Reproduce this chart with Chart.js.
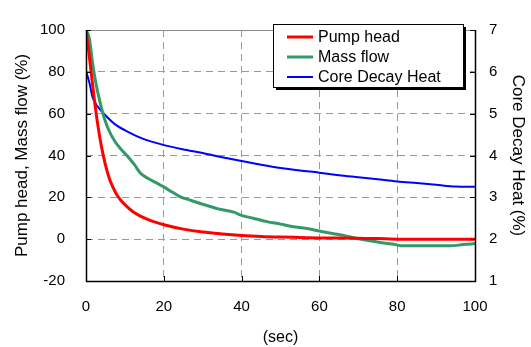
<!DOCTYPE html>
<html>
<head>
<meta charset="utf-8">
<script src="https://cdn.jsdelivr.net/npm/chart.js@4/dist/chart.umd.min.js"></script>
<style>
html,body{margin:0;padding:0;background:#fff;}
#wrap{width:531px;height:347px;}
</style>
</head>
<body>
<div id="wrap"><canvas id="c" width="531" height="347"></canvas></div>
<script>
// ---- data ----
const pumpTime = [0,0.5,1,1.5,2,3,4,5,6,7,8,9,10,12,14,16,18,20,25,30,35,40,45,50,55,60,65,70,75,80,90,100];
const pumpHead = [100,93,85,77,69,55,44,35.5,29,24.5,21,18.5,16.5,13.2,11,9.3,8,6.9,4.8,3.4,2.5,1.8,1.3,1,0.8,0.6,0.5,0.4,0.3,0,0,0];

const flowTime = [0,0.3,0.9,1.7,2.6,3.9,4.8,5.7,7.4,9,10.9,12.5,14,16,18,20,22,24,27,30,34,38,40,43,46.5,50,52.6,56,60,63,66.5,70,73,76,79.6,81,85,90,93.5,97,100];
const massFlow = [100,99,95.6,84,74,63.3,57.3,52.8,46.8,43,39.2,35.5,31.5,29,27,25,22.7,20.5,18.5,16.7,14.5,12.9,11.4,10,8.4,7.2,6.2,5.3,3.9,2.8,1.7,0.2,-0.8,-1.7,-2.6,-3.2,-3.2,-3.2,-3.2,-2.6,-2.1];

const heatTime = [0,0.9,1.7,3,4.8,7.4,10.9,14.4,19.6,24.8,30,35,40,45,50,55,60,65,70,75,80,85,90,95,100];
const decayHeat = [6.02,5.73,5.39,5.17,4.98,4.75,4.56,4.41,4.26,4.15,4.06,3.96,3.87,3.78,3.70,3.64,3.59,3.53,3.48,3.43,3.38,3.34,3.30,3.26,3.25];

const xTicks = [0,20,40,60,80,100];
const leftTicks = [-20,0,20,40,60,80,100];
const rightTicks = [1,2,3,4,5,6,7];

const seriesNames = ['Pump head','Mass flow','Core Decay Heat'];
// --------------------------------------

const FONT = 'Liberation Sans, Arial, sans-serif';
const pts = (xs, ys) => xs.map((x, i) => ({x: x, y: ys[i]}));

const frame = {
  id: 'frame',
  beforeDatasetsDraw(chart) {
    const {ctx, chartArea: a} = chart;
    ctx.save();
    ctx.strokeStyle = '#8c8c8c';
    ctx.lineWidth = 1;
    ctx.beginPath();
    ctx.moveTo(a.left, a.top + 0.5);
    ctx.lineTo(a.right, a.top + 0.5);
    ctx.stroke();
    ctx.restore();
  },
  afterDatasetsDraw(chart) {
    const {ctx, chartArea: a, scales} = chart;
    ctx.save();
    ctx.strokeStyle = '#000';
    ctx.lineWidth = 1.5;
    ctx.beginPath();
    ctx.moveTo(a.left + 0.5, a.top);
    ctx.lineTo(a.left + 0.5, a.bottom + 0.5);
    ctx.lineTo(a.right + 0.5, a.bottom + 0.5);
    ctx.lineTo(a.right + 0.5, a.top);
    ctx.stroke();
    ctx.lineWidth = 1;
    ctx.beginPath();
    const tl = 5;
    scales.y.ticks.forEach(t => {
      const y = Math.round(scales.y.getPixelForValue(t.value)) + 0.5;
      ctx.moveTo(a.left, y); ctx.lineTo(a.left + tl, y);
    });
    scales.y1.ticks.forEach(t => {
      const y = Math.round(scales.y1.getPixelForValue(t.value)) + 0.5;
      ctx.moveTo(a.right, y); ctx.lineTo(a.right - tl, y);
    });
    scales.x.ticks.forEach(t => {
      const x = Math.round(scales.x.getPixelForValue(t.value)) + 0.5;
      ctx.moveTo(x, a.bottom); ctx.lineTo(x, a.bottom - tl);
    });
    ctx.stroke();
    ctx.restore();

    // legend box
    const bx = 273, by = 24, bw = 190, bh = 63;
    ctx.save();
    ctx.fillStyle = '#000';
    ctx.fillRect(bx + 3, by + 3, bw, bh);
    ctx.fillStyle = '#fff';
    ctx.fillRect(bx, by, bw, bh);
    ctx.strokeStyle = '#000';
    ctx.lineWidth = 1;
    ctx.strokeRect(bx + 0.5, by + 0.5, bw, bh);
    ctx.font = '16px ' + FONT;
    ctx.textBaseline = 'middle';
    ctx.textAlign = 'left';
    chart.data.datasets.forEach((ds, i) => {
      const y = by + 13 + i * 20;
      ctx.strokeStyle = ds.borderColor;
      ctx.lineWidth = ds.borderWidth;
      ctx.beginPath();
      ctx.moveTo(bx + 14, y);
      ctx.lineTo(bx + 40, y);
      ctx.stroke();
      ctx.fillStyle = '#000';
      ctx.fillText(ds.label, bx + 45, y + 1);
    });
    ctx.restore();
  }
};

const gridColor = (edgeVals) => (c) => (c.tick && edgeVals.includes(c.tick.value)) ? 'rgba(0,0,0,0)' : '#9a9a9a';

new Chart(document.getElementById('c'), {
  type: 'line',
  data: {
    datasets: [
      {label: seriesNames[0], data: pts(pumpTime, pumpHead), borderColor: '#ff0000', borderWidth: 3, yAxisID: 'y', order: 1},
      {label: seriesNames[1], data: pts(flowTime, massFlow), borderColor: '#339966', borderWidth: 3, yAxisID: 'y', order: 2},
      {label: seriesNames[2], data: pts(heatTime, decayHeat), borderColor: '#0000ff', borderWidth: 2, yAxisID: 'y1', order: 3}
    ]
  },
  options: {
    responsive: false,
    animation: false,
    devicePixelRatio: 1,
    layout: {padding: {top: 15, left: 0, right: 0, bottom: 0}},
    elements: {point: {radius: 0}, line: {cubicInterpolationMode: 'monotone', fill: false}},
    plugins: {legend: {display: false}, tooltip: {enabled: false}},
    scales: {
      x: {
        type: 'linear', min: 0, max: 100,
        afterBuildTicks: s => { s.ticks = xTicks.map(v => ({value: v})); },
        afterFit: s => { s.height = 66; },
        grid: {color: gridColor([0, 100]), lineWidth: 1, drawTicks: false},
        border: {display: false, dash: [7, 5]},
        ticks: {padding: 17, color: '#000', font: {family: FONT, size: 15}, maxRotation: 0},
        title: {display: true, text: '(sec)', color: '#000', font: {family: FONT, size: 16}, padding: {top: 0, bottom: 0}}
      },
      y: {
        position: 'left', min: -20, max: 100,
        afterBuildTicks: s => { s.ticks = leftTicks.map(v => ({value: v})); },
        afterFit: s => { s.width = 86; },
        grid: {color: gridColor([-20, 100]), lineWidth: 1, drawTicks: false},
        border: {display: false, dash: [7, 5]},
        ticks: {padding: 21, color: '#000', font: {family: FONT, size: 15}},
        title: {display: true, text: 'Pump head, Mass flow (%)', color: '#000', font: {family: FONT, size: 17}, padding: {top: 12, bottom: 0}}
      },
      y1: {
        position: 'right', min: 1, max: 7,
        afterBuildTicks: s => { s.ticks = rightTicks.map(v => ({value: v})); },
        afterFit: s => { s.width = 56; },
        grid: {display: false, drawTicks: false},
        border: {display: false},
        ticks: {padding: 14, color: '#000', font: {family: FONT, size: 15}},
        title: {display: true, text: 'Core Decay Heat (%)', color: '#000', font: {family: FONT, size: 17}, padding: {top: 3, bottom: 0}}
      }
    }
  },
  plugins: [frame]
});
</script>
</body>
</html>
